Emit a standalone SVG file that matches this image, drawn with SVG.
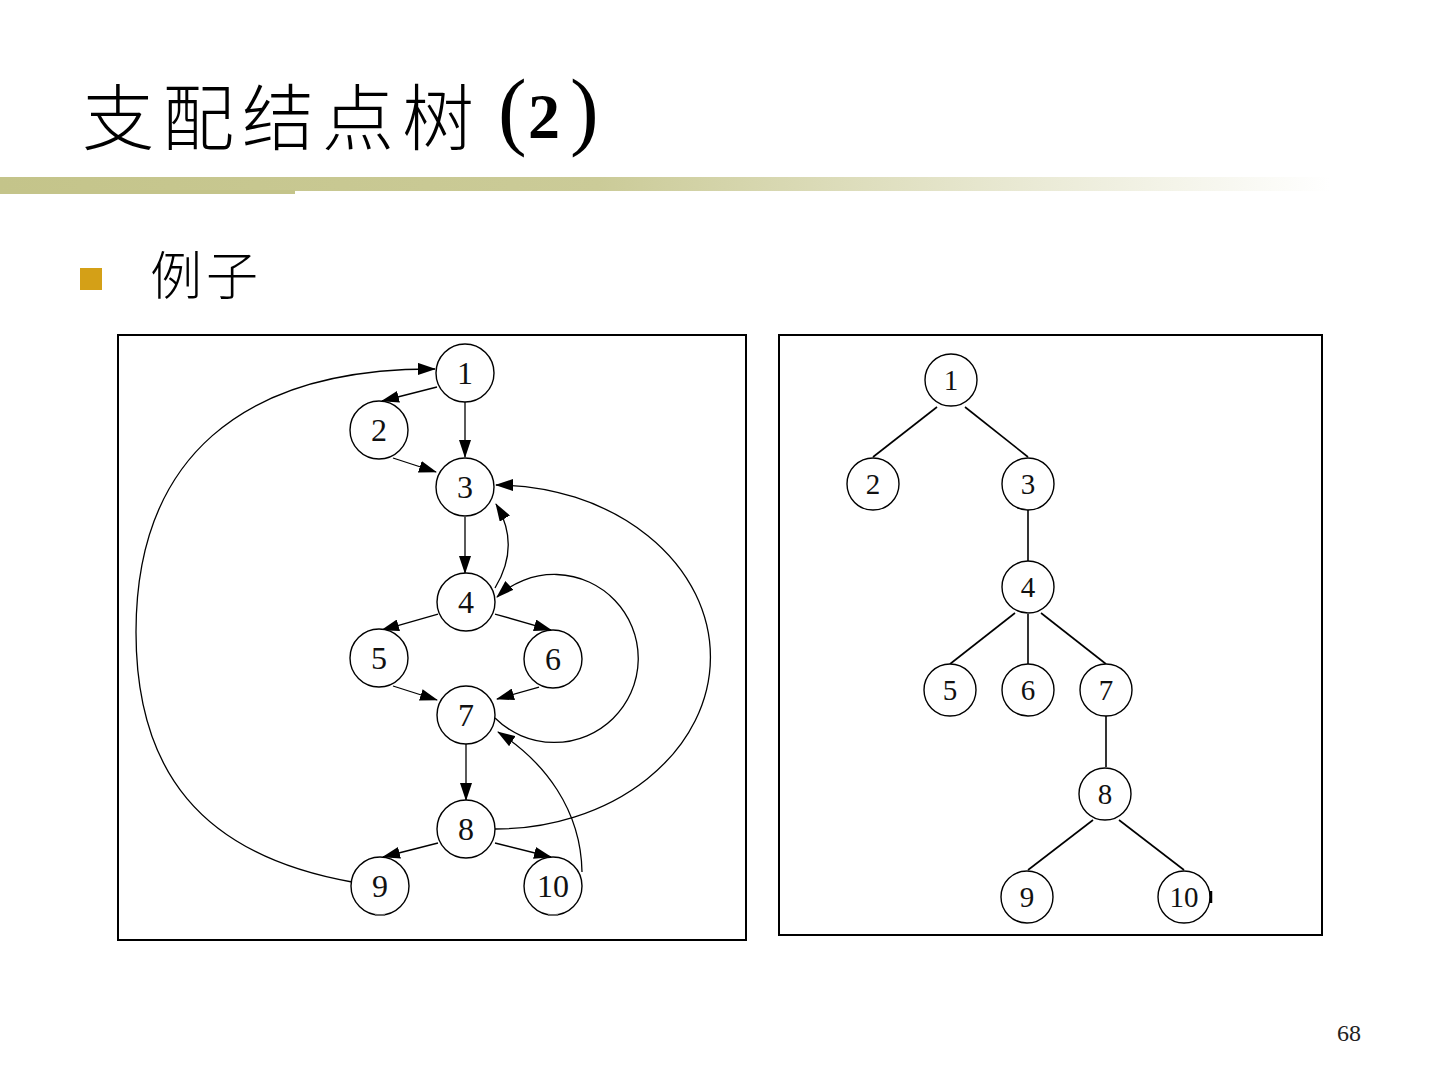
<svg xmlns="http://www.w3.org/2000/svg" width="1440" height="1080" viewBox="0 0 1440 1080">
<defs>
<linearGradient id="bar" x1="0" y1="0" x2="1" y2="0">
<stop offset="0" stop-color="#c4c48a"/>
<stop offset="0.45" stop-color="#cbcb98"/>
<stop offset="1" stop-color="#ffffff"/>
</linearGradient>
<marker id="ah" markerUnits="userSpaceOnUse" markerWidth="18" markerHeight="12" refX="17" refY="6" orient="auto">
<path d="M0,0 L18,6 L0,12 z" fill="#000"/>
</marker>
</defs>
<style>
.nd{fill:#fff;stroke:#000;stroke-width:1.4}
.lb{font-family:"Liberation Serif","Times New Roman",serif;font-size:32px;text-anchor:middle;fill:#111}
.lb2{font-family:"Liberation Serif","Times New Roman",serif;font-size:29px;text-anchor:middle;fill:#111}
.e{fill:none;stroke:#000;stroke-width:1.3;marker-end:url(#ah)}
.t{fill:none;stroke:#000;stroke-width:1.6}
.box{fill:#fff;stroke:#000;stroke-width:2}
.ti{font-family:"Liberation Serif","Times New Roman",serif;fill:#000}
</style>
<rect width="1440" height="1080" fill="#fff"/>
<text x="82" y="144" font-family="'Noto Sans CJK SC',sans-serif" font-size="72" letter-spacing="8" font-weight="300" fill="#000">支配结点树</text>
<text class="ti" x="498" y="139" font-size="86">(</text>
<text class="ti" x="528" y="138" font-size="64" font-weight="bold">2</text>
<text class="ti" x="570" y="139" font-size="86">)</text>
<rect x="0" y="177" width="1330" height="14" fill="url(#bar)"/>
<rect x="0" y="190" width="295" height="4" fill="#c4c48a"/>
<rect x="80" y="268" width="22" height="22" fill="#d4a017"/>
<text x="150" y="295" font-family="'Noto Sans CJK SC',sans-serif" font-size="52" letter-spacing="4" font-weight="300" fill="#000">例子</text>
<rect class="box" x="118" y="335" width="628" height="605"/>
<rect class="box" x="779" y="335" width="543" height="600"/>
<g id="connectors">
<path class="e" d="M437,387 L382,401"/>
<path class="e" d="M465,401 L465,457"/>
<path class="e" d="M393,458 L436,472"/>
<path class="e" d="M352,882 C200,855 136,770 136,632 C136,460 240,368 435,369"/>
<path class="e" d="M465,517 L465,573"/>
<path class="e" d="M495,588 Q521,545 496,504"/>
<path class="e" d="M495,829 A215,172 0 0 0 496,485"/>
<path class="e" d="M495,718 A84,84 0 1 0 497,597"/>
<path class="e" d="M438,614 L382,630"/>
<path class="e" d="M495,614 L551,630"/>
<path class="e" d="M393,686 L437,700"/>
<path class="e" d="M539,687 L497,699"/>
<path class="e" d="M582,872 C581,810 545,762 498,732"/>
<path class="e" d="M466,743 L466,800"/>
<path class="e" d="M438,843 L383,857"/>
<path class="e" d="M495,843 L551,857"/>
<path class="t" d="M937,407 L873,457"/>
<path class="t" d="M965,407 L1028,457"/>
<path class="t" d="M1028,510 L1028,561"/>
<path class="t" d="M1015,613 L950,664"/>
<path class="t" d="M1028,614 L1028,664"/>
<path class="t" d="M1041,613 L1106,664"/>
<path class="t" d="M1106,716 L1106,767"/>
<path class="t" d="M1093,820 L1028,870"/>
<path class="t" d="M1119,820 L1184,870"/>
</g>
<g id="n1"><circle class="nd" cx="465" cy="373" r="29"/><text class="lb" x="465" y="384">1</text></g>
<g id="n2"><circle class="nd" cx="379" cy="430" r="29"/><text class="lb" x="379" y="441">2</text></g>
<g id="n3"><circle class="nd" cx="465" cy="487" r="29"/><text class="lb" x="465" y="498">3</text></g>
<g id="n4"><circle class="nd" cx="466" cy="602" r="29"/><text class="lb" x="466" y="613">4</text></g>
<g id="n5"><circle class="nd" cx="379" cy="658" r="29"/><text class="lb" x="379" y="669">5</text></g>
<g id="n6"><circle class="nd" cx="553" cy="659" r="29"/><text class="lb" x="553" y="670">6</text></g>
<g id="n7"><circle class="nd" cx="466" cy="715" r="29"/><text class="lb" x="466" y="726">7</text></g>
<g id="n8"><circle class="nd" cx="466" cy="829" r="29"/><text class="lb" x="466" y="840">8</text></g>
<g id="n9"><circle class="nd" cx="380" cy="886" r="29"/><text class="lb" x="380" y="897">9</text></g>
<g id="n10"><circle class="nd" cx="553" cy="886" r="29"/><text class="lb" x="553" y="897">10</text></g>
<path d="M375,915 L385,915 M548,915 L558,915" stroke="#666" stroke-width="2"/>
<g id="t1"><circle class="nd" cx="951" cy="380" r="26"/><text class="lb2" x="951" y="390">1</text></g>
<g id="t2"><circle class="nd" cx="873" cy="484" r="26"/><text class="lb2" x="873" y="494">2</text></g>
<g id="t3"><circle class="nd" cx="1028" cy="484" r="26"/><text class="lb2" x="1028" y="494">3</text></g>
<g id="t4"><circle class="nd" cx="1028" cy="587" r="26"/><text class="lb2" x="1028" y="597">4</text></g>
<g id="t5"><circle class="nd" cx="950" cy="690" r="26"/><text class="lb2" x="950" y="700">5</text></g>
<g id="t6"><circle class="nd" cx="1028" cy="690" r="26"/><text class="lb2" x="1028" y="700">6</text></g>
<g id="t7"><circle class="nd" cx="1106" cy="690" r="26"/><text class="lb2" x="1106" y="700">7</text></g>
<g id="t8"><circle class="nd" cx="1105" cy="794" r="26"/><text class="lb2" x="1105" y="804">8</text></g>
<g id="t9"><circle class="nd" cx="1027" cy="897" r="26"/><text class="lb2" x="1027" y="907">9</text></g>
<g id="t10"><circle class="nd" cx="1184" cy="897" r="26"/><text class="lb2" x="1184" y="907">10</text></g>
<path d="M1211,891 L1211,903" stroke="#000" stroke-width="2.5"/>
<text x="1349" y="1041" font-family="'Liberation Serif','Times New Roman',serif" font-size="24" text-anchor="middle" fill="#222">68</text>
</svg>
